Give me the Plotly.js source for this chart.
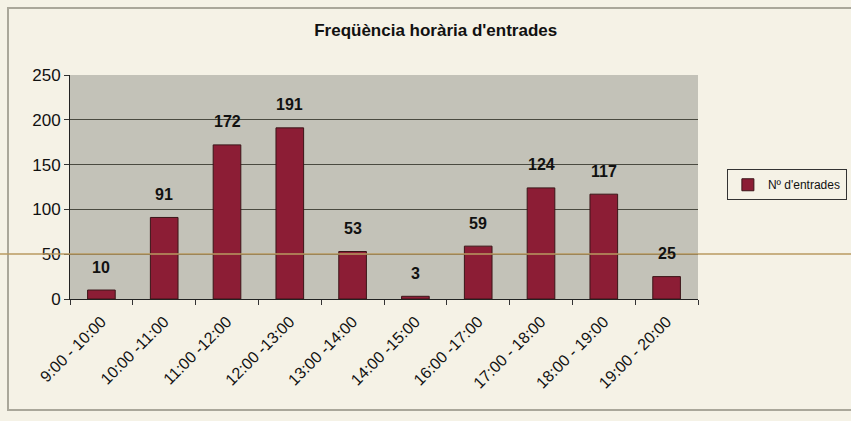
<!DOCTYPE html>
<html>
<head>
<meta charset="utf-8">
<script src="https://cdn.plot.ly/plotly-3.0.1.min.js"></script>
<style>html,body{margin:0;padding:0;background:#f5f2e6;}#chart{width:851px;height:421px;}</style>
</head>
<body>
<div id="chart"></div>
<script>
const categories = ["9:00 - 10:00","10:00 -11:00","11:00 -12:00","12:00 -13:00","13:00 -14:00","14:00 -15:00","16:00 -17:00","17:00 - 18:00","18:00 - 19:00","19:00 - 20:00"];
const values = [10, 91, 172, 191, 53, 3, 59, 124, 117, 25];
const seriesName = "Nº d'entrades";
const chartTitle = "Freqüència horària d'entrades";

const FONT = "Liberation Sans, Arial, sans-serif";

const trace = {
  type: 'bar',
  x: categories,
  y: values,
  name: seriesName,
  width: 0.44,
  marker: {color: '#8c1d35', line: {color: '#3b1518', width: 1}},
  showlegend: true,
  hoverinfo: 'x+y'
};

const annotations = categories.map((c, i) => ({
  x: c, y: values[i], xref: 'x', yref: 'y',
  text: String(values[i]), showarrow: false,
  yanchor: 'middle', yshift: 23,
  font: {family: FONT, size: 16, color: '#111', weight: 'bold'}
}));

const layout = {
  width: 851, height: 421,
  margin: {l: 70, r: 153, t: 75, b: 122, pad: 0, autoexpand: false},
  paper_bgcolor: '#f5f2e6',
  plot_bgcolor: '#c3c2b8',
  title: {
    text: '<b>' + chartTitle + '</b>',
    x: 0.512, xref: 'container', xanchor: 'center',
    y: 1 - 30/421, yref: 'container', yanchor: 'middle',
    font: {family: FONT, size: 17, color: '#111'}
  },
  xaxis: {
    type: 'category',
    tickangle: -45,
    ticks: 'outside', ticklen: 5, tickcolor: '#333',
    tickson: 'boundaries',
    showline: true, linecolor: '#222', linewidth: 1,
    showgrid: false,
    tickfont: {family: FONT, size: 16, color: '#111'},
    ticklabelstandoff: 6,
    automargin: false,
    fixedrange: true
  },
  yaxis: {
    range: [0, 250], dtick: 50,
    ticks: 'outside', ticklen: 5, tickcolor: '#333',
    showline: true, linecolor: '#222', linewidth: 1,
    showgrid: true, gridcolor: '#4a4a40', gridwidth: 1,
    zeroline: false,
    tickfont: {family: FONT, size: 17, color: '#111'},
    automargin: false,
    fixedrange: true
  },
  legend: {
    x: 1.046, xref: 'paper', xanchor: 'left',
    y: 0.51, yanchor: 'middle',
    bgcolor: '#f5f2e6', bordercolor: '#333', borderwidth: 1,
    font: {family: FONT, size: 12, color: '#111'},
    itemwidth: 30
  },
  annotations: annotations,
  shapes: [
    {type: 'rect', xref: 'paper', yref: 'paper',
     x0: (8-70)/628, x1: (900-70)/628, y0: (299-410)/224, y1: (299-8)/224,
     line: {color: '#aaa79a', width: 2}, fillcolor: 'rgba(0,0,0,0)', layer: 'below'},
    {type: 'line', xref: 'paper', yref: 'paper',
     x0: -70/628, x1: (851-70)/628, y0: (299-254)/224, y1: (299-254)/224,
     line: {color: '#b89a60', width: 1.5}, layer: 'above'}
  ]
};

Plotly.newPlot('chart', [trace], layout, {displayModeBar: false, staticPlot: true});
</script>
</body>
</html>
